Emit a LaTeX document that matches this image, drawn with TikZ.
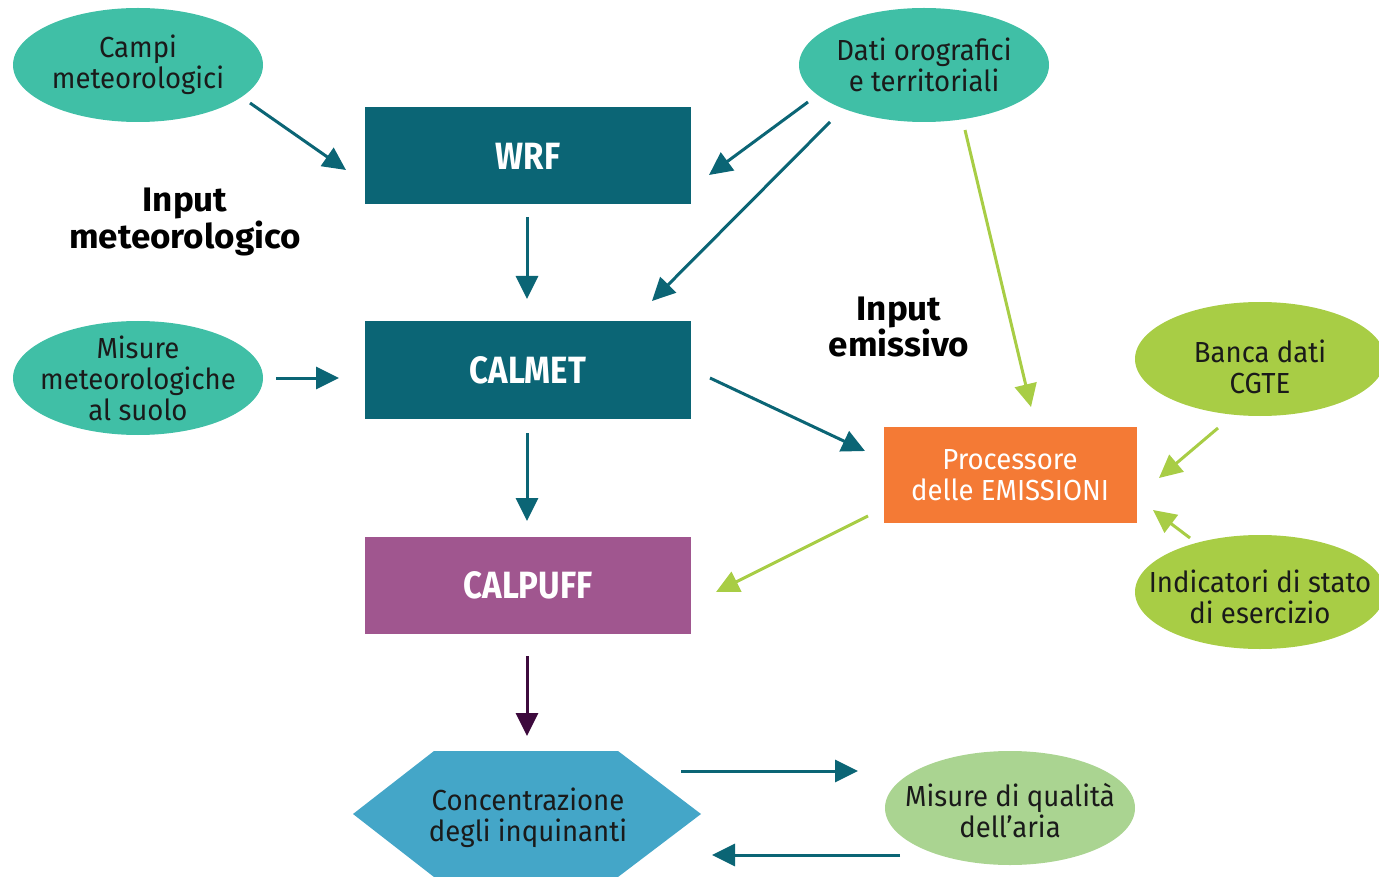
\documentclass[tikz,border=0pt]{standalone}
\usepackage{fontspec}
\setmainfont[FakeStretch=0.95]{Fira Sans}
\newfontfamily\boxfont[FakeStretch=0.87]{Fira Sans}
\newfontfamily\lblfont[FakeStretch=1.03]{Fira Sans}
\usetikzlibrary{shapes.geometric,arrows.meta}
\definecolor{teal1}{HTML}{0B6575}
\definecolor{ellg}{HTML}{40BFA6}
\definecolor{lime}{HTML}{A8CD45}
\definecolor{paleg}{HTML}{AAD491}
\definecolor{purp}{HTML}{A0568F}
\definecolor{orng}{HTML}{F47A35}
\definecolor{hexb}{HTML}{44A6C8}
\definecolor{darkp}{HTML}{3D0A3D}
\definecolor{txt}{HTML}{1A1A1A}
\tikzset{
  ell/.style={ellipse, draw=none, minimum width=250pt, minimum height=114pt, inner sep=0pt},
  etext/.style={align=center, text=txt, inner sep=0pt, font=\fontsize{29}{31}\selectfont},
  modbox/.style={rectangle, draw=none, minimum width=326pt, minimum height=97pt, inner sep=0pt, text=white, font=\boxfont\fontsize{38}{40}\selectfont\bfseries},
  lbl/.style={align=center, font=\lblfont\fontsize{34}{32}\selectfont\bfseries, text=black},
  tarr/.style={draw=teal1, line width=3pt, -{Triangle[length=23pt,width=22pt]}},
  garr/.style={draw=lime, line width=3pt, -{Triangle[length=23pt,width=22pt]}},
  parr/.style={draw=darkp, line width=3pt, -{Triangle[length=23pt,width=22pt]}}
}
\begin{document}
\begin{tikzpicture}[x=1pt,y=-1pt]
\useasboundingbox (0,0) rectangle (1379,877);
% ellipses
\node[ell, fill=ellg] (campi) at (138,65) {};
\node[etext] (campit) at (campi) {Campi\\meteorologici};
\node[ell, fill=ellg] (dati) at (924,65) {};
\node[etext] (datit) at (dati) {Dati orografici\\e territoriali};
\node[ell, fill=ellg] (misure) at (138,378) {};
\node[etext] (misuret) at (misure) {Misure\\meteorologiche\\al suolo};
\node[ell, fill=lime] (banca) at (1260,359) {};
\node[etext] (bancat) at (1260,367) {Banca dati\\CGTE};
\node[ell, fill=lime] (indic) at (1260,592) {};
\node[etext] (indict) at (1260,597) {Indicatori di stato\\di esercizio};
\node[ell, fill=paleg] (qual) at (1010,808) {};
\node[etext] (qualt) at (1010,811) {Misure di qualità\\dell’aria};
% boxes
\node[modbox, fill=teal1] (wrf) at (528,156) {WRF};
\node[modbox, fill=teal1] (calmet) at (528,370) {CALMET};
\node[modbox, fill=purp] (calpuff) at (528,585) {CALPUFF};
\node[rectangle, fill=orng, minimum width=253pt, minimum height=96pt, inner sep=0pt, align=center, text=white, font=\fontsize{29}{31}\selectfont] (proc) at (1010,475) {Processore\\delle EMISSIONI};
% hexagon
\fill[hexb] (353,814) -- (434,751) -- (618,751) -- (701,814) -- (618,877) -- (434,877) -- cycle;
\node[etext] (conc) at (528,818) {Concentrazione\\degli inquinanti};
% labels
\node[lbl] (inmet) at (185,222) {Input\\meteorologico};
\node[lbl] (inemi) at (899,327) {Input\\emissivo};
% connector end points
\coordinate (a1) at (250,103); \coordinate (b1) at (346,170);
\coordinate (a2) at (808,102); \coordinate (b2) at (709,175);
\coordinate (a3) at (830,122); \coordinate (b3) at (652,301);
\coordinate (a4) at (527,217); \coordinate (b4) at (527,299);
\coordinate (a5) at (276,378); \coordinate (b5) at (339,378);
\coordinate (a6) at (710,378); \coordinate (b6) at (865,451);
\coordinate (a7) at (527,433); \coordinate (b7) at (527,521);
\coordinate (a8) at (965,130); \coordinate (b8) at (1031,407);
\coordinate (a9) at (1218,428); \coordinate (b9) at (1159,478);
\coordinate (a10) at (1190,538); \coordinate (b10) at (1153,510);
\coordinate (a11) at (868,516); \coordinate (b11) at (716,592);
\coordinate (a12) at (527,656); \coordinate (b12) at (527,736);
\coordinate (a13) at (681,771); \coordinate (b13) at (858,771);
\coordinate (a14) at (900,855); \coordinate (b14) at (712,855);
% connectors
\draw[tarr] (a1) -- (b1);
\draw[tarr] (a2) -- (b2);
\draw[tarr] (a3) -- (b3);
\draw[tarr] (a4) -- (b4);
\draw[tarr] (a5) -- (b5);
\draw[tarr] (a6) -- (b6);
\draw[tarr] (a7) -- (b7);
\draw[garr] (a8) -- (b8);
\draw[garr] (a9) -- (b9);
\draw[garr] (a10) -- (b10);
\draw[garr] (a11) -- (b11);
\draw[parr] (a12) -- (b12);
\draw[tarr] (a13) -- (b13);
\draw[tarr] (a14) -- (b14);
\end{tikzpicture}
\end{document}
